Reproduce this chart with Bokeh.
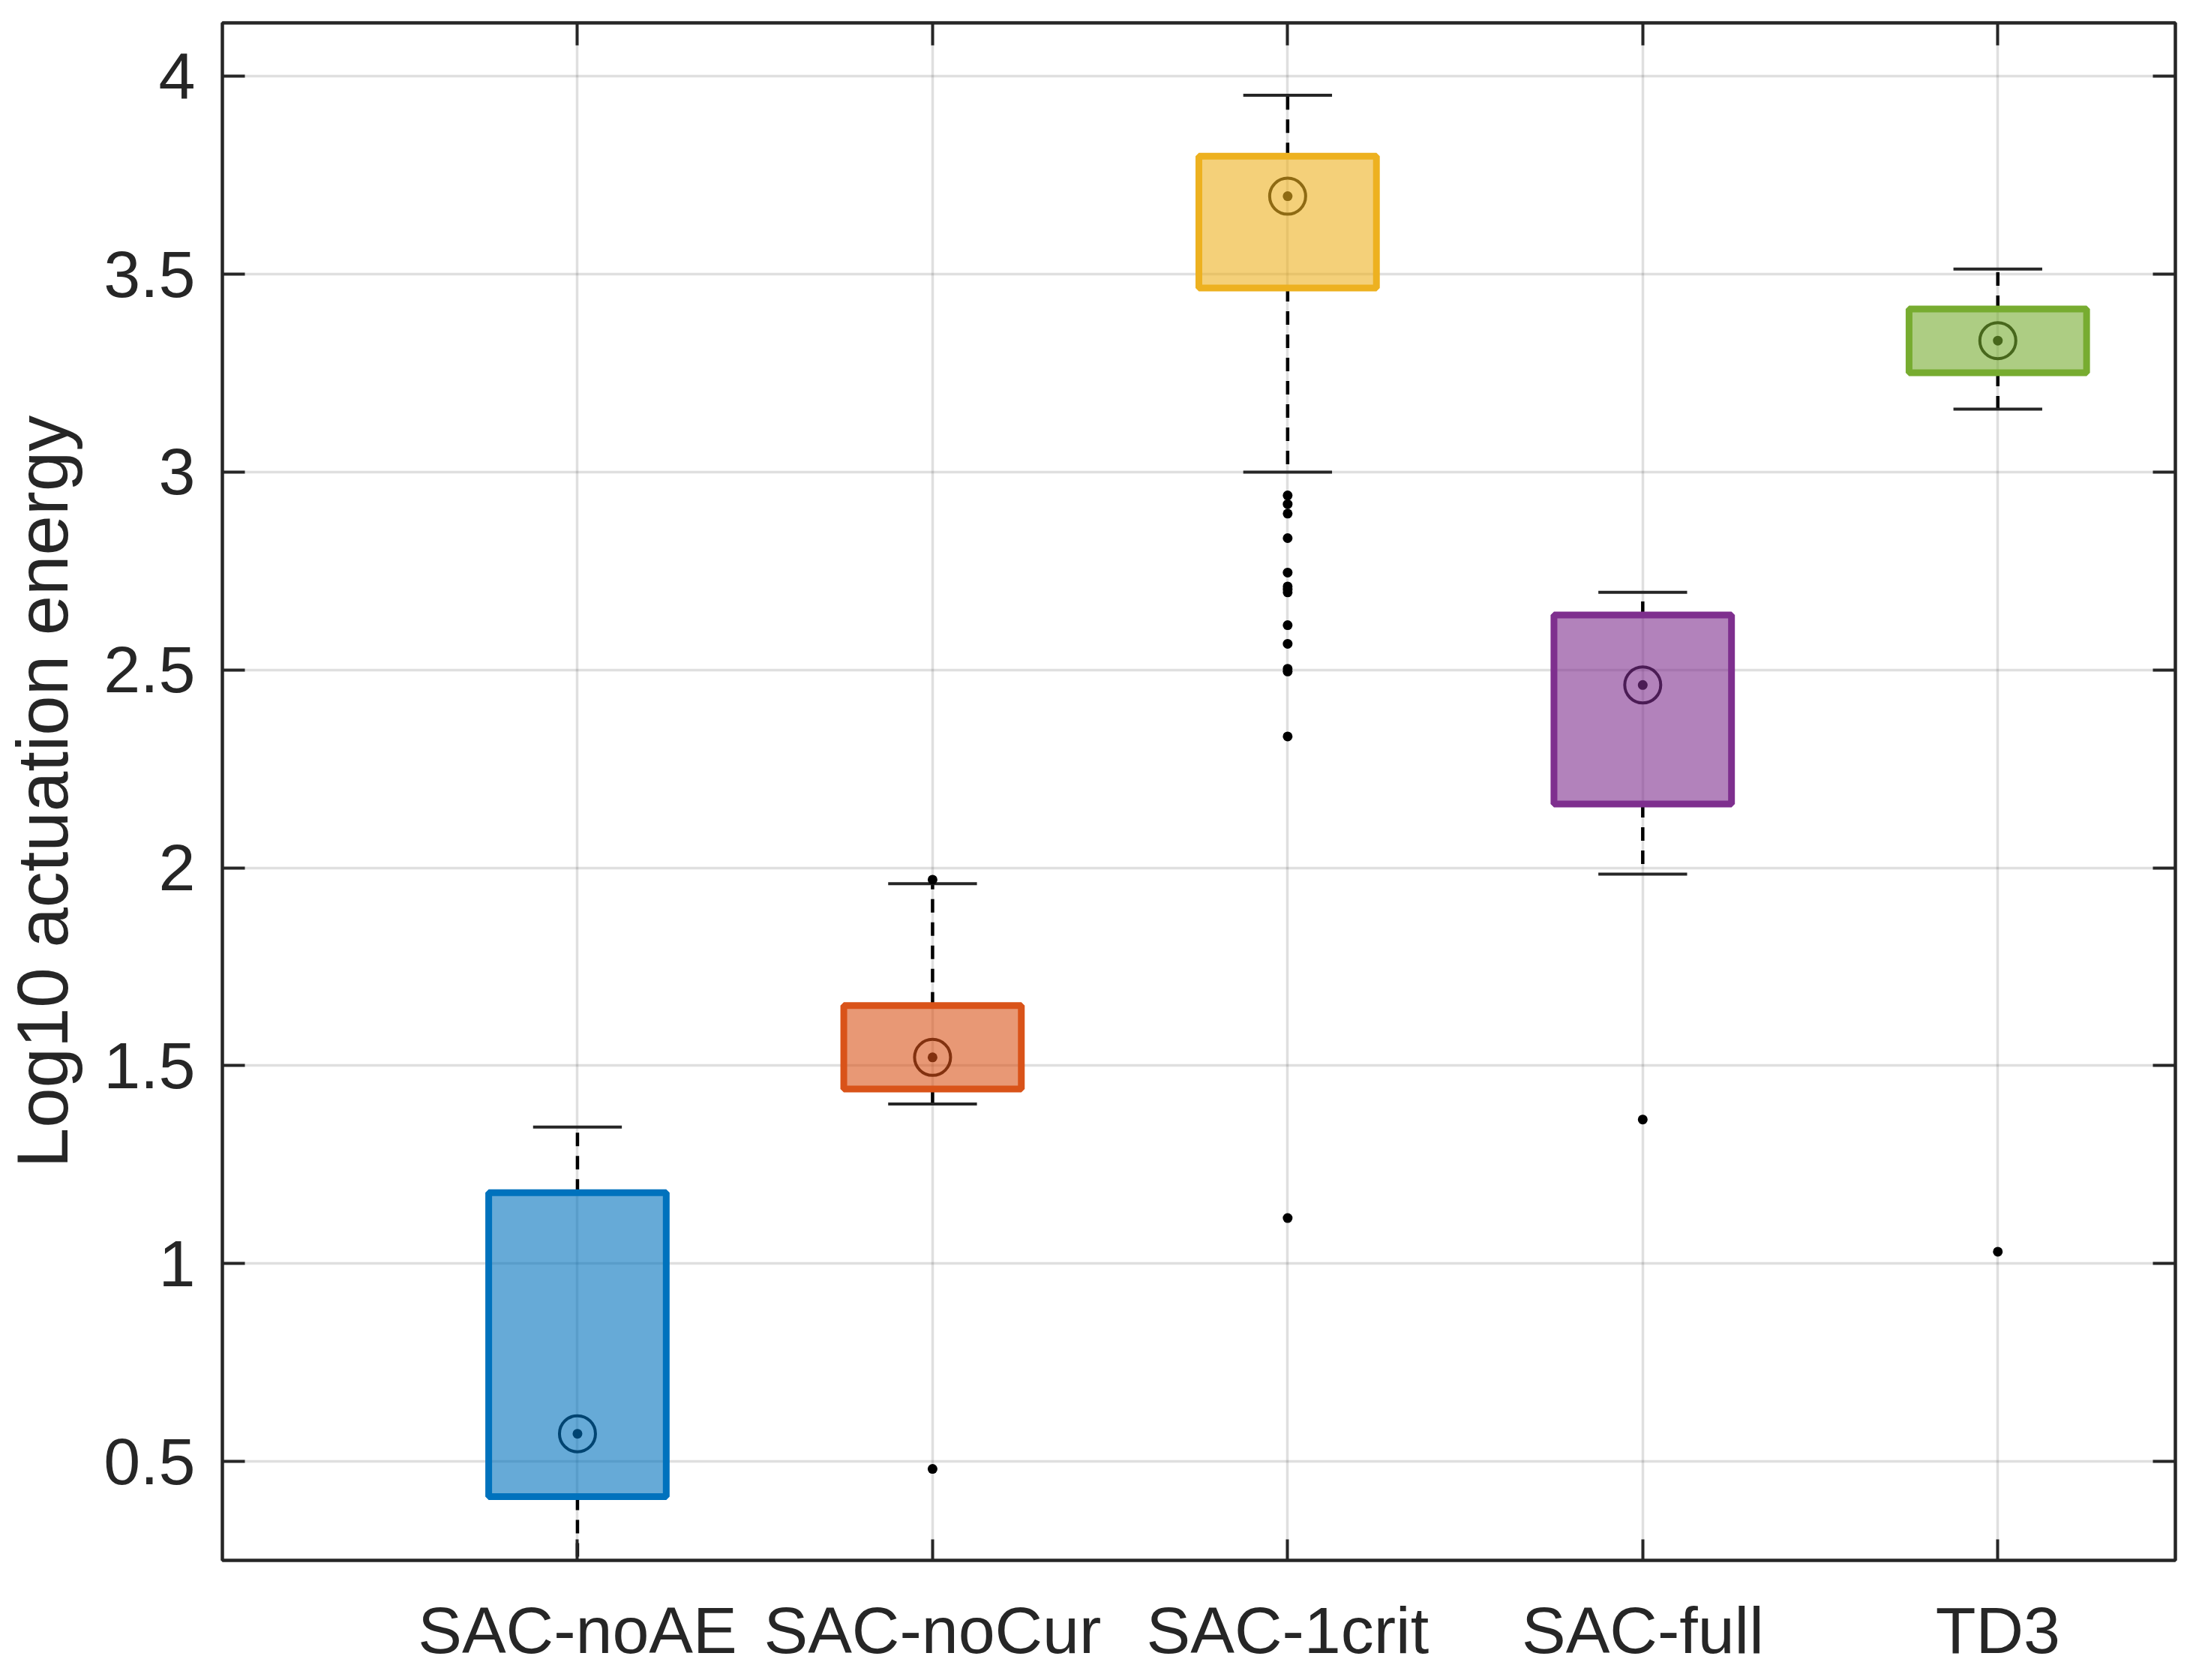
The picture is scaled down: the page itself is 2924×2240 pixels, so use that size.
from bokeh.plotting import figure
from bokeh.models import (LinearAxis, FixedTicker, Range1d, CustomJSTickFormatter,
                          ColumnDataSource)
from bokeh.embed import file_html
from bokeh.resources import INLINE

# ---------------- data ----------------
labels = ["SAC-noAE", "SAC-noCur", "SAC-1crit", "SAC-full", "TD3"]
positions = [1, 2, 3, 4, 5]
q1 = [0.411, 1.441, 3.465, 2.161, 3.251]
q3 = [1.179, 1.652, 3.798, 2.639, 3.412]
medians = [0.570, 1.521, 3.697, 2.462, 3.332]
whisker_lo = [0.20, 1.403, 3.000, 1.984, 3.159]
whisker_hi = [1.345, 1.960, 3.952, 2.696, 3.513]

outlier_group = [2, 2,
                 3, 3, 3, 3, 3, 3, 3, 3, 3, 3, 3, 3, 3, 3,
                 4, 5]
outlier_vals = [1.970, 0.481,
                2.941, 2.919, 2.895, 2.833, 2.746, 2.711, 2.703, 2.696,
                2.613, 2.566, 2.503, 2.496, 2.332, 1.115,
                1.364, 1.030]

colors = ["#0072BD", "#D95319", "#EDB120", "#7E2F8E", "#77AC30"]
y_ticks = [0.5, 1, 1.5, 2, 2.5, 3, 3.5, 4]

# ---------------- styles ----------------
FONT = "Liberation Sans"
TXT = "#262626"
BOX_HALF = 0.25
CAP_HALF = 0.125


def darken(hexcol, f=0.6):
    h = hexcol.lstrip("#")
    r, g, b = (int(h[i:i + 2], 16) for i in (0, 2, 4))
    return "#%02x%02x%02x" % (int(r * f), int(g * f), int(b * f))


dark = [darken(c) for c in colors]

p = figure(width=2916, height=2232, output_backend="svg", toolbar_location=None,
           x_range=Range1d(0, 5.5), y_range=Range1d(0.25, 4.135),
           min_border_left=296, min_border_right=16, min_border_top=30,
           min_border_bottom=152, x_axis_location="below", y_axis_location="left")
p.background_fill_color = "white"
p.border_fill_color = "white"
p.outline_line_color = TXT
p.outline_line_width = 4

# grids
p.xgrid.ticker = FixedTicker(ticks=positions)
p.ygrid.ticker = FixedTicker(ticks=y_ticks)
for g in (p.xgrid, p.ygrid):
    g.grid_line_color = TXT
    g.grid_line_alpha = 0.15
    g.grid_line_width = 3.5

# axes
xax = p.xaxis[0]
xax.ticker = FixedTicker(ticks=positions)
xax.major_label_overrides = {pos: lab for pos, lab in zip(positions, labels)}
yax = p.yaxis[0]
yax.ticker = FixedTicker(ticks=y_ticks)
yax.formatter = CustomJSTickFormatter(code="return String(tick);")
yax.axis_label = "Log10 actuation energy"
yax.axis_label_text_font = FONT
yax.axis_label_text_font_size = "96px"
yax.axis_label_text_font_style = "normal"
yax.axis_label_text_color = TXT
yax.axis_label_standoff = 25

for ax in (xax, yax):
    ax.major_tick_in = 30
    ax.major_tick_out = 0
    ax.minor_tick_line_color = None
    ax.axis_line_color = TXT
    ax.axis_line_width = 4
    ax.major_tick_line_color = TXT
    ax.major_tick_line_width = 4
    ax.major_label_text_font = FONT
    ax.major_label_text_font_size = "88px"
    ax.major_label_text_color = TXT
xax.major_tick_in = 28
xax.major_label_standoff = 43
yax.major_label_standoff = 36

empty = CustomJSTickFormatter(code="return '';")
ax_r = LinearAxis(ticker=FixedTicker(ticks=y_ticks), formatter=empty)
ax_t = LinearAxis(ticker=FixedTicker(ticks=positions), formatter=empty)
for ax in (ax_r, ax_t):
    ax.major_tick_in = 30
    ax.major_tick_out = 0
    ax.minor_tick_line_color = None
    ax.axis_line_color = TXT
    ax.axis_line_width = 4
    ax.major_tick_line_color = TXT
    ax.major_tick_line_width = 4
    ax.major_label_standoff = 0
    ax.major_label_text_font_size = "1px"
p.add_layout(ax_r, "right")
p.add_layout(ax_t, "above")

# ---------------- glyphs ----------------
box_src = ColumnDataSource(dict(
    left=[x - BOX_HALF for x in positions],
    right=[x + BOX_HALF for x in positions],
    bottom=q1, top=q3, color=colors,
))

# whiskers (dashed)
p.segment(x0=positions, y0=q3, x1=positions, y1=whisker_hi,
          line_color="black", line_width=4.5, line_dash="18 13")
p.segment(x0=positions, y0=q1, x1=positions, y1=whisker_lo,
          line_color="black", line_width=4.5, line_dash="18 13")
# caps
p.segment(x0=[x - CAP_HALF for x in positions], y0=whisker_hi,
          x1=[x + CAP_HALF for x in positions], y1=whisker_hi,
          line_color=TXT, line_width=4)
p.segment(x0=[x - CAP_HALF for x in positions], y0=whisker_lo,
          x1=[x + CAP_HALF for x in positions], y1=whisker_lo,
          line_color=TXT, line_width=4)

# boxes
p.quad(left="left", right="right", bottom="bottom", top="top", source=box_src,
       fill_color="color", fill_alpha=0.6, line_color="color", line_width=9)

# medians: circle with a dot
p.scatter(x=positions, y=medians, marker="circle", size=48,
          fill_color=None, line_color=dark, line_width=4)
p.scatter(x=positions, y=medians, marker="circle", size=13,
          fill_color=dark, line_color=None)

# outliers
p.scatter(x=outlier_group, y=outlier_vals, marker="circle", size=13,
          fill_color="black", line_color=None)

open("out.html", "w").write(file_html(p, INLINE))
